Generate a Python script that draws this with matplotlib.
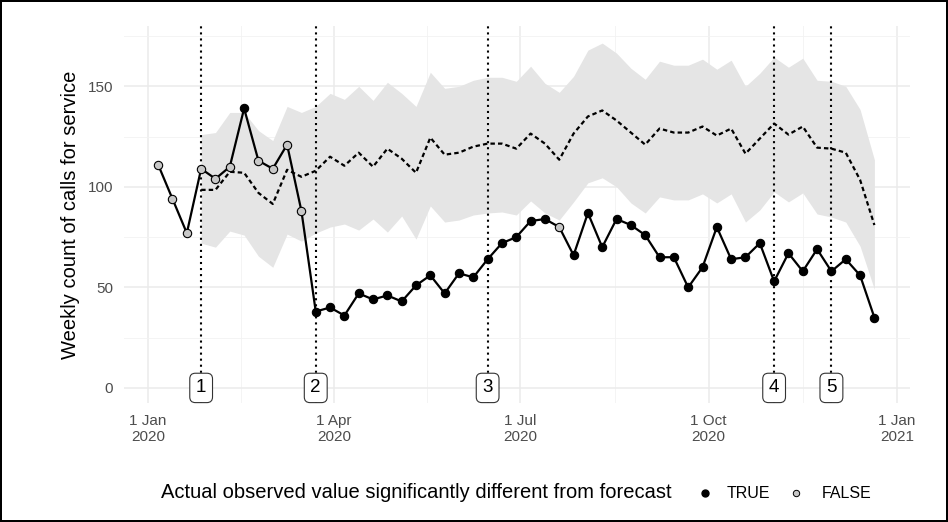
import matplotlib
matplotlib.use("Agg")
import matplotlib.pyplot as plt
import matplotlib.dates as mdates
import numpy as np
import pandas as pd

plt.rcParams['font.family'] = ['Liberation Sans', 'DejaVu Sans']

# ---- data ----
weeks = pd.date_range("2020-01-06", periods=51, freq="7D")
observed = [111, 94, 77, 109, 104, 110, 139, 113, 109, 121, 88,
            38, 40, 36, 47, 44, 46, 43, 51, 56, 47, 57, 55, 64, 72, 75,
            83, 84, 80, 66, 87, 70, 84, 81, 76, 65, 65, 50, 60, 80, 64,
            65, 72, 53, 67, 58, 69, 58, 64, 56, 35]
significant = [False, False, False, False, False, False, True, False, False, False, False] + \
              [True] * 17 + [False] + [True] * 22

forecast_start = 3
forecast = [98.5, 98.5, 107.5, 107, 97, 91.5, 108.5, 105, 108, 115,
            110.5, 117, 110, 119, 114, 107, 124.5, 116, 117, 120, 121.5,
            121.5, 119, 126.5, 121.5, 113.5, 126.5, 135, 138, 133, 127,
            121, 129, 127, 127, 130, 125.5, 129, 116.5, 124, 131.5, 126,
            130, 119.5, 119, 117, 103.5, 81]
upper = [126, 127, 137, 137, 128, 123, 140, 137, 140, 146.5,
         143.5, 150, 143, 152, 146.5, 140, 157, 149, 150, 153, 154.5,
         154.5, 152.5, 160, 151.5, 147, 155, 168, 171.5, 166.5, 159,
         153.5, 162.5, 160.5, 160.5, 163.5, 158.5, 163, 150, 156.5, 164.5, 159.5,
         164, 153, 152.5, 150, 138.5, 113.5]
lower = [72, 70, 78, 76, 65.5, 60, 76.5, 73, 77, 80,
         81.5, 78.5, 84, 77.5, 85.5, 74, 90.5, 82.5, 83.5, 86, 87,
         87.5, 86, 93, 87, 83.5, 92.5, 102, 104.5, 100, 92,
         87, 95, 93.5, 93.5, 96.5, 92, 96.5, 82.5, 88.5, 97.5, 92.5,
         97, 86.5, 85, 82.5, 70.5, 49]

event_dates = pd.to_datetime(["2020-01-27", "2020-03-23", "2020-06-15",
                              "2020-11-02", "2020-11-30"])
event_labels = ["1", "2", "3", "4", "5"]

x_breaks = pd.to_datetime(["2020-01-01", "2020-04-01", "2020-07-01",
                           "2020-10-01", "2021-01-01"])
x_labels = ["1 Jan\n2020", "1 Apr\n2020", "1 Jul\n2020", "1 Oct\n2020", "1 Jan\n2021"]
y_breaks = [0, 50, 100, 150]

legend_title = "Actual observed value significantly different from forecast"
legend_labels = ["TRUE", "FALSE"]

# ---- figure ----
W, H = 948, 522
fig = plt.figure(figsize=(W / 100, H / 100), dpi=100)
fig.patch.set_facecolor("white")
fig.patch.set_edgecolor("black")
fig.patch.set_linewidth(1.5)

ax = fig.add_axes([124 / W, 1 - 403 / H, (910 - 124) / W, (403 - 26) / H])
ax.set_axisbelow(True)
for s in ax.spines.values():
    s.set_visible(False)

x0 = mdates.date2num(pd.Timestamp("2020-01-01"))
ax.set_xlim(x0 - 11.7, x0 + 372.4)
ax.set_ylim(-7.5, 180)

xb = mdates.date2num(x_breaks)
ax.set_xticks(xb)
ax.set_xticklabels(x_labels)
ax.set_xticks((xb[:-1] + xb[1:]) / 2, minor=True)
ax.set_yticks(y_breaks)
ax.set_yticks([25, 75, 125, 175], minor=True)
ax.tick_params(which="both", length=0, colors="#4d4d4d", labelsize=11, pad=8)
ax.tick_params(axis="x", pad=8)
ax.grid(which="major", color="#ebebeb", linewidth=1.1)
ax.grid(which="minor", color="#f2f2f2", linewidth=0.6)

fx = mdates.date2num(weeks[forecast_start:])
ax.fill_between(fx, lower, upper, color="#e5e5e5", linewidth=0, zorder=1)
ax.plot(fx, forecast, color="black", linestyle=(0, (2.0, 1.4)), linewidth=1.6, zorder=2)

for d in event_dates:
    ax.axvline(mdates.date2num(d), color="black", linestyle=(0, (1, 1.9)), linewidth=1.5, zorder=3)

xo = mdates.date2num(weeks)
ax.plot(xo, observed, color="black", linewidth=1.6, zorder=4)
obs = np.array(observed)
sig = np.array(significant)
ax.scatter(xo[sig], obs[sig], s=36, c="black", edgecolors="black", linewidths=0.8, zorder=5)
ax.scatter(xo[~sig], obs[~sig], s=36, c="#c8c8c8", edgecolors="black", linewidths=0.8, zorder=5)

for d, lab in zip(event_dates, event_labels):
    ax.text(mdates.date2num(d), 0, lab, ha="center", va="center", fontsize=13.5, zorder=6,
            bbox=dict(boxstyle="round,pad=0.33,rounding_size=0.3", facecolor="white",
                      edgecolor="#333333", linewidth=0.8))

ax.set_ylabel("Weekly count of calls for service", fontsize=14.5, color="black", labelpad=5)

# ---- legend ----
ly = 1 - 493 / H
fig.text(672 / W, ly, legend_title, ha="right", va="center", fontsize=14.5)
fig.lines.append(plt.Line2D([705 / W], [ly], transform=fig.transFigure, marker="o",
                            markersize=5, color="black", markeredgecolor="black", linestyle="none"))
fig.text(727 / W, ly, legend_labels[0], ha="left", va="center", fontsize=11.5)
fig.lines.append(plt.Line2D([796 / W], [ly], transform=fig.transFigure, marker="o",
                            markersize=4.6, color="#c8c8c8", markeredgecolor="black",
                            markeredgewidth=0.7, linestyle="none"))
fig.text(822 / W, ly, legend_labels[1], ha="left", va="center", fontsize=11.5)

fig.savefig("out.png", dpi=100)
